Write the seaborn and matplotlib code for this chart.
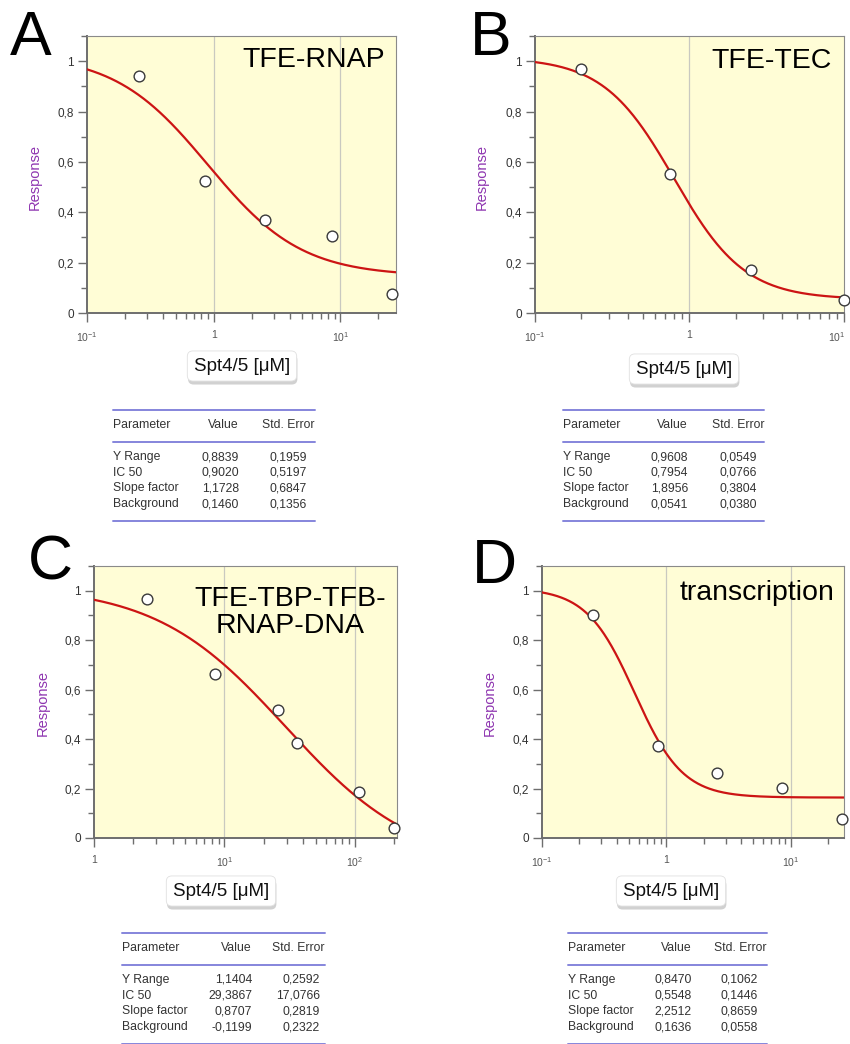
import numpy as np
import pandas as pd
import matplotlib
matplotlib.use("Agg")
import matplotlib.pyplot as plt
import seaborn as sns
from matplotlib import patheffects
from matplotlib.ticker import FixedLocator, FuncFormatter, NullFormatter
from matplotlib.lines import Line2D
from matplotlib.transforms import ScaledTranslation

sns.set_theme(style="white")
plt.rcParams["font.family"] = ["Liberation Sans", "DejaVu Sans"]
plt.rcParams["mathtext.fontset"] = "custom"
plt.rcParams["mathtext.rm"] = "Liberation Sans"
plt.rcParams["mathtext.it"] = "Liberation Sans:italic"
plt.rcParams["mathtext.bf"] = "Liberation Sans:bold"

# ---- measured responses -------------------------------------------------
panel_letters = ["A", "B", "C", "D"]
panel_titles = ["TFE-RNAP", "TFE-TEC", "TFE-TBP-TFB-\nRNAP-DNA", "transcription"]

a_conc = [0.256, 0.853, 2.56, 8.53, 25.6]
a_resp = [0.940, 0.524, 0.368, 0.306, 0.077]
b_conc = [0.20, 0.75, 2.5, 10.0]
b_resp = [0.970, 0.552, 0.171, 0.052]
c_conc = [2.55, 8.53, 25.5, 36.0, 108.0, 200.0]
c_resp = [0.966, 0.662, 0.518, 0.384, 0.188, 0.040]
d_conc = [0.256, 0.853, 2.56, 8.53, 25.6]
d_resp = [0.903, 0.373, 0.262, 0.203, 0.078]

# ---- four-parameter IC50 fits: Y range, IC 50, slope factor, background --
param_names = ["Y Range", "IC 50", "Slope factor", "Background"]
a_fit = [0.8839, 0.9020, 1.1728, 0.1460]
a_err = [0.1959, 0.5197, 0.6847, 0.1356]
b_fit = [0.9608, 0.7954, 1.8956, 0.0541]
b_err = [0.0549, 0.0766, 0.3804, 0.0380]
c_fit = [1.1404, 29.3867, 0.8707, -0.1199]
c_err = [0.2592, 17.0766, 0.2819, 0.2322]
d_fit = [0.8470, 0.5548, 2.2512, 0.1636]
d_err = [0.1062, 0.1446, 0.8659, 0.0558]

y_ticks = [0, 0.2, 0.4, 0.6, 0.8, 1.0]

concs = [a_conc, b_conc, c_conc, d_conc]
resps = [a_resp, b_resp, c_resp, d_resp]
fits = [a_fit, b_fit, c_fit, d_fit]
errs = [a_err, b_err, c_err, d_err]

# ---- layout (pixel geometry of an 850 x 1044 canvas) --------------------
W, H = 850, 1044
layout = [
    dict(box=(87, 36, 396, 313), xlim=(0.1, 27.5), letter=(31, 55), ylab=(35, 177),
         xlab=(242, 366), title=(385, 67),
         table=dict(x0=113, x1=315, y0=410, val=239, err=307)),
    dict(box=(535, 36, 844, 313), xlim=(0.1, 10.05), letter=(491, 55), ylab=(482, 177),
         xlab=(684, 369), title=(832, 68),
         table=dict(x0=563, x1=764, y0=410, val=688, err=757)),
    dict(box=(94, 566, 397, 838), xlim=(1, 210), letter=(50, 579), ylab=(43, 703),
         xlab=(221, 891), title=(290, 633),
         table=dict(x0=122, x1=325, y0=933, val=252, err=320)),
    dict(box=(542, 566, 844, 838), xlim=(0.1, 26.8), letter=(494, 583), ylab=(490, 703),
         xlab=(671, 891), title=(834, 600),
         table=dict(x0=568, x1=767, y0=933, val=692, err=758)),
]

FACE = "#fffdd6"
SPINE = "#6e6e6e"
TEXT = "#333333"
PURPLE = "#8e35b0"
RED = "#cc1414"
RULE = "#7878d8"


def fx(x):
    return x / W


def fy(y):
    return 1 - y / H


def logistic(x, p):
    yr, ic50, slope, bg = p
    return bg + yr / (1 + (x / ic50) ** slope)


def comma(v, nd=4):
    return f"{v:.{nd}f}".replace(".", ",")


def ytick_fmt(v, _):
    if abs(v) < 1e-9:
        return "0"
    if abs(v - 1) < 1e-9:
        return "1"
    return f"{v:.1f}".replace(".", ",")


def xtick_fmt(v, _):
    e = int(round(np.log10(v)))
    if e == 0:
        return "1"
    return f"$10^{{{e}}}$"


fig = plt.figure(figsize=(W / 100, H / 100), dpi=100)

for i in range(4):
    L = layout[i]
    l, t, r, b = L["box"]
    ax = fig.add_axes([fx(l), fy(b), (r - l) / W, (b - t) / H])
    ax.set_facecolor(FACE)
    ax.set_xscale("log")
    xmin, xmax = L["xlim"]
    ax.set_xlim(xmin, xmax)
    ax.set_ylim(0, 1.1)

    # vertical guides at the decades inside the range
    decades = [10.0 ** k for k in range(-3, 4)]
    for d in decades:
        if xmin * 1.01 < d < xmax * 0.99:
            ax.axvline(d, color="#c9c9c0", lw=0.9, zorder=0)

    # fitted curve from the table parameters
    xs = np.logspace(np.log10(xmin), np.log10(xmax), 400)
    curve = pd.DataFrame({"conc": xs, "resp": logistic(xs, fits[i])})
    sns.lineplot(data=curve, x="conc", y="resp", ax=ax, color=RED, lw=1.6,
                 zorder=3, legend=False)

    pts = pd.DataFrame({"conc": concs[i], "resp": resps[i]})
    sns.scatterplot(data=pts, x="conc", y="resp", ax=ax, s=60, marker="o",
                    facecolor="white", edgecolor="#3a3a3a", linewidth=1.0,
                    zorder=4, clip_on=False, legend=False)

    ax.set_xlabel("")
    ax.set_ylabel("")

    # ticks
    majors = [d for d in decades if xmin * 0.999 <= d <= xmax * 1.001]
    minors = [m * d for d in decades for m in range(2, 10)
              if xmin < m * d < xmax]
    ax.xaxis.set_major_locator(FixedLocator(majors))
    ax.xaxis.set_minor_locator(FixedLocator(minors))
    ax.xaxis.set_major_formatter(FuncFormatter(xtick_fmt))
    ax.xaxis.set_minor_formatter(NullFormatter())
    ax.yaxis.set_major_locator(FixedLocator(y_ticks))
    ax.yaxis.set_minor_locator(FixedLocator([0.1, 0.3, 0.5, 0.7, 0.9, 1.1]))
    ax.yaxis.set_major_formatter(FuncFormatter(ytick_fmt))
    ax.tick_params(axis="both", which="major", direction="out", length=6.5,
                   width=1.0, color=SPINE, bottom=True, left=True)
    ax.tick_params(axis="both", which="minor", direction="out", length=4.5,
                   width=1.0, color=SPINE, bottom=True, left=True)
    ax.tick_params(axis="y", which="major", labelsize=8.5, labelcolor=TEXT, pad=3)
    ax.tick_params(axis="x", which="major", labelsize=7.5, labelcolor="#555555", pad=6)

    # keep a decade label that sits on the right edge inside the canvas
    if r > W - 10:
        ticks = ax.xaxis.get_major_ticks()
        if majors and abs(np.log10(majors[-1]) - np.log10(xmax)) < 0.01:
            lbl = ticks[len(majors) - 1].label1
            lbl.set_transform(lbl.get_transform() +
                              ScaledTranslation(-5 / 72, 0, fig.dpi_scale_trans))

    for side in ["left", "bottom"]:
        ax.spines[side].set_color(SPINE)
        ax.spines[side].set_linewidth(1.4)
    for side in ["top", "right"]:
        ax.spines[side].set_color("#8a8a8a")
        ax.spines[side].set_linewidth(0.8)

    # panel letter
    lx, ly = L["letter"]
    fig.text(fx(lx), fy(ly), panel_letters[i], fontsize=45, ha="center",
             va="baseline", color="black")

    # panel title
    tx, ty = L["title"]
    if "\n" in panel_titles[i]:
        fig.text(fx(tx), fy(ty), panel_titles[i], fontsize=20.5, ha="center",
                 va="baseline", color="black", linespacing=1.05,
                 multialignment="center")
    else:
        fig.text(fx(tx), fy(ty), panel_titles[i], fontsize=20.5, ha="right",
                 va="baseline", color="black")

    # y label
    yx, yy = L["ylab"]
    fig.text(fx(yx), fy(yy), "Response", rotation=90, fontsize=10.5,
             color=PURPLE, ha="center", va="center")

    # x label in a rounded box with a soft shadow
    xx, xy = L["xlab"]
    lab = fig.text(fx(xx), fy(xy), "Spt4/5 [\u03bcM]", fontsize=13.5, ha="center",
                   va="center", color="#111111",
                   bbox=dict(boxstyle="round,pad=0.35,rounding_size=0.3",
                             facecolor="white", edgecolor="#e0e0e0", linewidth=0.6))
    lab.get_bbox_patch().set_path_effects([
        patheffects.SimplePatchShadow(offset=(0.5, -2.5), shadow_rgbFace="#9a9a9a",
                                      alpha=0.45),
        patheffects.Normal(),
    ])

    # fit-parameter table
    T = L["table"]
    x0, x1, y0 = T["x0"], T["x1"], T["y0"]
    for yline in (y0, y0 + 32, y0 + 111):
        fig.add_artist(Line2D([fx(x0), fx(x1)], [fy(yline), fy(yline)],
                              color=RULE, lw=1.4, alpha=0.9))
    fs = 8.8
    fig.text(fx(x0), fy(y0 + 15), "Parameter", fontsize=fs, color=TEXT,
             ha="left", va="center")
    fig.text(fx(T["val"]), fy(y0 + 15), "Value", fontsize=fs, color=TEXT,
             ha="right", va="center")
    fig.text(fx(x1), fy(y0 + 15), "Std. Error", fontsize=fs, color=TEXT,
             ha="right", va="center")
    for k, name in enumerate(param_names):
        yy_row = y0 + 47 + k * 15.7
        fig.text(fx(x0), fy(yy_row), name, fontsize=fs, color=TEXT,
                 ha="left", va="center")
        fig.text(fx(T["val"]), fy(yy_row), comma(fits[i][k]), fontsize=fs,
                 color=TEXT, ha="right", va="center")
        fig.text(fx(T["err"]), fy(yy_row), comma(errs[i][k]), fontsize=fs,
                 color=TEXT, ha="right", va="center")

fig.savefig("out.png", dpi=100, facecolor="white")
